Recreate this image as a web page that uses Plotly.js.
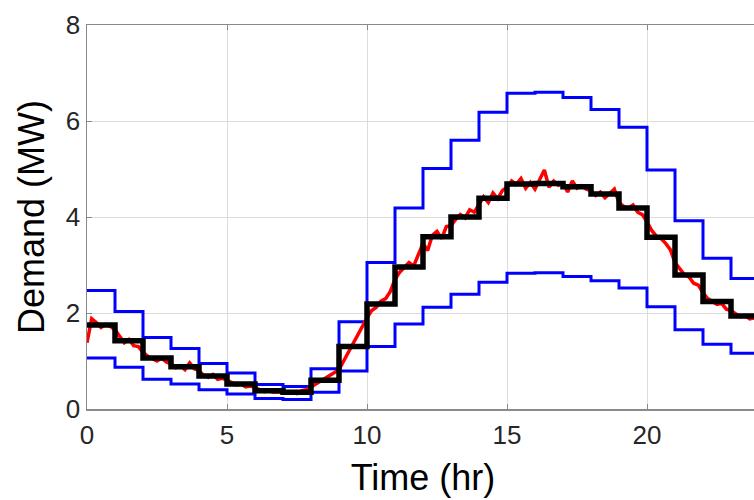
<!DOCTYPE html>
<html>
<head>
<meta charset="utf-8">
<script src="https://cdn.plot.ly/plotly-3.0.1.min.js"></script>
<style>
html,body{margin:0;padding:0;background:#fff;overflow:hidden;}
#chart{width:780px;height:500px;}
</style>
</head>
<body>
<div id="chart"></div>
<script>
// Hourly step boundaries (hr)
const hours = [0,1,2,3,4,5,6,7,8,9,10,11,12,13,14,15,16,17,18,19,20,21,22,23,24];

// Upper bound (blue), hourly
const upperBound = [2.47,2.03,1.49,1.26,0.95,0.75,0.51,0.47,0.84,1.82,3.05,4.19,5.01,5.60,6.18,6.58,6.60,6.49,6.24,5.87,4.98,3.92,3.14,2.72];
// Lower bound (blue), hourly
const lowerBound = [1.06,0.87,0.62,0.52,0.40,0.31,0.22,0.20,0.35,0.79,1.30,1.77,2.12,2.39,2.64,2.83,2.84,2.76,2.67,2.52,2.13,1.65,1.35,1.16];
// Hourly average demand (black)
const hourlyMean = [1.75,1.42,1.06,0.88,0.69,0.52,0.38,0.35,0.60,1.30,2.19,2.96,3.59,4.00,4.39,4.69,4.70,4.63,4.48,4.19,3.58,2.79,2.24,1.94];

// Measured demand (red), 10-minute samples from 0 to 24 hr
const measured = [
  1.38,1.88,1.80,1.70,1.76,1.72,
  1.65,1.50,1.38,1.45,1.32,1.30,
  1.18,1.10,1.04,1.00,1.06,0.98,
  0.94,0.86,0.90,0.82,0.96,0.84,
  0.80,0.70,0.66,0.72,0.62,0.64,
  0.60,0.54,0.50,0.52,0.46,0.48,
  0.44,0.40,0.36,0.38,0.35,0.36,
  0.34,0.33,0.35,0.32,0.38,0.40,
  0.46,0.52,0.58,0.64,0.68,0.74,
  0.82,1.00,1.18,1.36,1.55,1.72,
  1.90,2.05,2.12,2.25,2.30,2.45,
  2.70,2.85,2.95,3.05,2.98,3.20,
  3.45,3.30,3.62,3.70,3.55,3.80,
  3.82,3.95,4.05,3.98,4.15,4.10,
  4.25,4.42,4.30,4.50,4.38,4.55,
  4.62,4.75,4.68,4.80,4.60,4.72,
  4.58,4.78,4.98,4.62,4.75,4.66,
  4.70,4.52,4.75,4.60,4.65,4.58,
  4.55,4.45,4.52,4.40,4.48,4.58,
  4.30,4.22,4.18,4.25,4.10,4.05,
  3.90,3.72,3.60,3.55,3.45,3.32,
  3.05,2.92,2.80,2.75,2.62,2.58,
  2.42,2.30,2.25,2.18,2.20,2.08,
  2.05,1.98,1.92,1.95,1.88,1.90,
  1.85
];
const samplesPerHour = 6;
const measuredTime = measured.map((_, i) => i / samplesPerHour);

const xTicks = [0,5,10,15,20];
const yTicks = [0,2,4,6,8];

const stepped = arr => arr.concat([arr[arr.length - 1]]);

const traces = [
  {x: hours, y: stepped(upperBound), mode:'lines', line:{shape:'hv', color:'#0000ff', width:3}, hoverinfo:'skip'},
  {x: hours, y: stepped(lowerBound), mode:'lines', line:{shape:'hv', color:'#0000ff', width:3}, hoverinfo:'skip'},
  {x: measuredTime, y: measured, mode:'lines', line:{color:'#ff0000', width:3.5}, hoverinfo:'skip'},
  {x: hours, y: stepped(hourlyMean), mode:'lines', line:{shape:'hv', color:'#000000', width:5.5}, hoverinfo:'skip'}
];

const FONT = 'Liberation Sans, Arial, sans-serif';
const axisCommon = {
  showline: true, linecolor:'#8a8a8a', linewidth:1.5, mirror:'ticks',
  ticks:'inside', ticklen:5, tickcolor:'#8a8a8a', tickwidth:1,
  showgrid:true, gridcolor:'#dcdcdc', gridwidth:1, zeroline:false,
  tickfont:{family:FONT, size:26, color:'#262626'}
};

const layout = {
  width: 780, height: 500,
  margin:{l:87, r:21, t:25, b:91},
  paper_bgcolor:'#ffffff', plot_bgcolor:'#ffffff',
  showlegend:false,
  xaxis: Object.assign({}, axisCommon, {
    range:[0,24], tickvals:xTicks, ticktext:xTicks.map(String),
    ticklabelstandoff:2,
    title:{text:'Time (hr)', font:{family:FONT, size:36, color:'#000'}, standoff:16}
  }),
  yaxis: Object.assign({}, axisCommon, {
    range:[0,8], tickvals:yTicks, ticktext:yTicks.map(String),
    title:{text:'Demand (MW)', font:{family:FONT, size:36, color:'#000'}, standoff:10}
  })
};

Plotly.newPlot('chart', traces, layout, {staticPlot:true, displayModeBar:false});
</script>
</body>
</html>
